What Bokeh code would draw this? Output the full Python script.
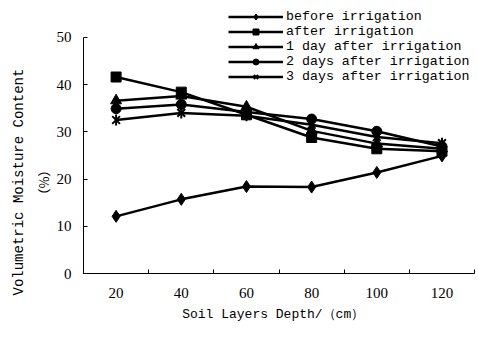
import math
from bokeh.plotting import figure
from bokeh.models import FixedTicker, Range1d, Legend, LegendItem, Title
from bokeh.embed import file_html
from bokeh.resources import INLINE

depths = [20, 40, 60, 80, 100, 120]
series_names = ["before irrigation", "after irrigation", "1 day after irrigation",
                "2 days after irrigation", "3 days after irrigation"]
before = [12.1, 15.7, 18.4, 18.3, 21.4, 24.9]
after = [41.6, 38.4, 33.6, 28.8, 26.4, 25.9]
day1 = [36.6, 37.6, 35.3, 30.2, 27.5, 26.4]
day2 = [34.9, 35.8, 34.2, 32.7, 30.1, 26.9]
day3 = [32.5, 34.0, 33.4, 31.5, 28.9, 27.6]
y_ticks = [0, 10, 20, 30, 40, 50]
x_bounds = [10, 30, 50, 70, 90, 110, 130]

NB = "\u00a0"
W, H = 478, 341
p = figure(width=W, height=H, output_backend="svg", toolbar_location=None,
           x_range=Range1d(10, 131.2), y_range=Range1d(0, 57.8),
           min_border_left=83, min_border_right=0, min_border_top=0, min_border_bottom=68)
p.outline_line_color = None
p.grid.visible = False
p.background_fill_color = "white"
p.border_fill_color = "white"

p.xaxis.ticker = FixedTicker(ticks=depths, minor_ticks=x_bounds)
p.xaxis.bounds = (10, 130)
p.xaxis.major_tick_in = 0
p.xaxis.major_tick_out = 0
p.xaxis.minor_tick_in = 4
p.xaxis.minor_tick_out = 0
p.xaxis.minor_tick_line_color = "black"
p.xaxis.axis_line_color = "black"
p.xaxis.major_label_standoff = 14
p.xaxis.major_label_text_font = "Liberation Serif"
p.xaxis.major_label_text_font_size = "15px"
p.xaxis.major_label_text_color = "black"
p.xaxis.axis_label = "Soil Layers Depth/（cm）" + NB * 2
p.xaxis.axis_label_standoff = 6
p.xaxis.axis_label_text_font = "Liberation Mono"
p.xaxis.axis_label_text_font_size = "13px"
p.xaxis.axis_label_text_font_style = "normal"
p.xaxis.axis_label_text_color = "black"

p.yaxis.ticker = FixedTicker(ticks=y_ticks, minor_ticks=[])
p.yaxis.bounds = (0, 50)
p.yaxis.major_tick_in = 4
p.yaxis.major_tick_out = 0
p.yaxis.major_tick_line_color = "black"
p.yaxis.axis_line_color = "black"
p.yaxis.major_label_standoff = 12
p.yaxis.major_label_text_font = "Liberation Serif"
p.yaxis.major_label_text_font_size = "15px"
p.yaxis.major_label_text_color = "black"

t_pct = Title(text="（%）", align="left", offset=72, standoff=0,
              vertical_align="middle", text_font="Noto Sans CJK SC",
              text_font_size="13px", text_font_style="normal", text_color="black")
t_main = Title(text="Volumetric Moisture Content", align="left", offset=-22, standoff=9,
               vertical_align="middle", text_font="Liberation Mono",
               text_font_size="14px", text_font_style="normal", text_color="black")
p.add_layout(t_pct, "left")
p.add_layout(t_main, "left")

data = [before, after, day1, day2, day3]
markers = ["diamond", "square", "triangle", "circle", None]
sizes = [12, 10, 11, 10, 11]
items = []
for name, vals, mk, sz in zip(series_names, data, markers, sizes):
    rs = [p.line(depths, vals, line_color="black", line_width=2.5)]
    if mk is None:
        rs.append(p.scatter(depths, vals, marker="x", size=sz, line_color="black", line_width=2))
        rs.append(p.scatter(depths, vals, marker="dash", size=sz, angle=math.pi / 2,
                            line_color="black", line_width=2))
    else:
        rs.append(p.scatter(depths, vals, marker=mk, size=sz, fill_color="black",
                            line_color="black", line_width=1))
    items.append(LegendItem(label=name, renderers=rs))

legend = Legend(items=items, location=(145, 189), orientation="vertical",
                glyph_width=55, glyph_height=15, label_height=15, spacing=0,
                padding=0, margin=0, label_standoff=3,
                label_text_font="Liberation Mono", label_text_font_size="13.3px",
                label_text_color="black", border_line_color=None,
                background_fill_alpha=0)
p.add_layout(legend, "center")

open("out.html", "w").write(file_html(p, INLINE))
